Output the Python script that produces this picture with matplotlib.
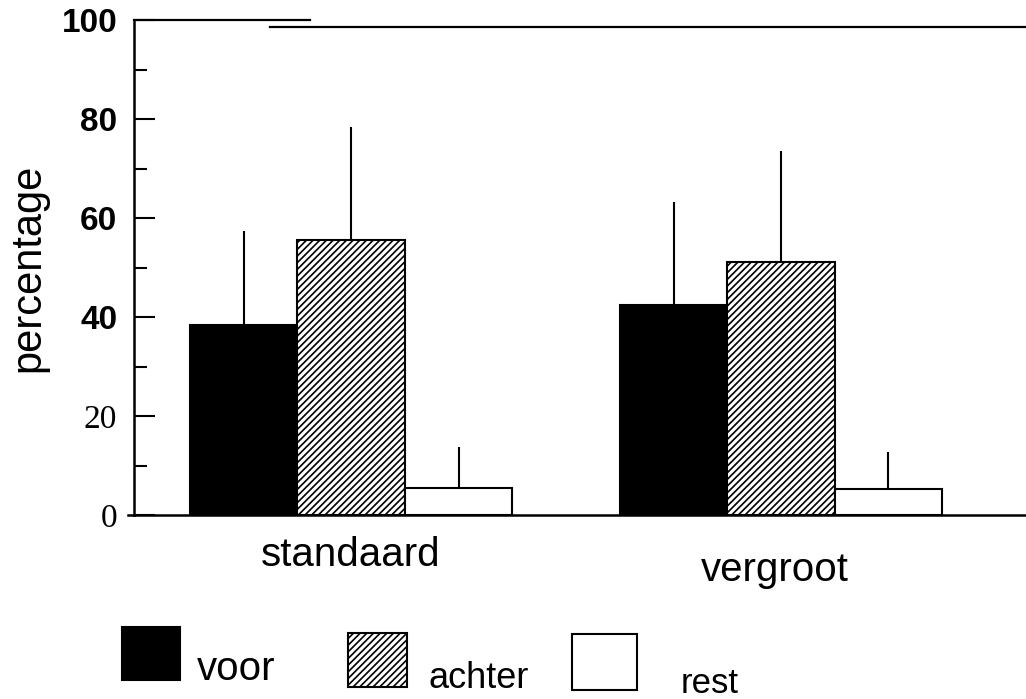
import matplotlib
matplotlib.use("Agg")
import matplotlib.pyplot as plt
import matplotlib.transforms as mtransforms
from matplotlib.patches import Rectangle
import numpy as np

categories = ["standaard", "vergroot"]
series = ["voor", "achter", "rest"]
voor = [38.3, 42.5]
voor_sd = [19.0, 20.7]
achter = [55.6, 51.2]
achter_sd = [22.8, 22.3]
rest = [5.5, 5.3]
rest_sd = [8.3, 7.5]
yticks = [0, 20, 40, 60, 80, 100]
ytick_labels = ["0", "20", "40", "60", "80", "100"]

SANS = "Liberation Sans"
SERIF = "Liberation Serif"
plt.rcParams["font.family"] = [SANS, "DejaVu Sans"]
plt.rcParams["hatch.linewidth"] = 1.2

W, H = 1026, 699
fig = plt.figure(figsize=(W / 100, H / 100), dpi=100)
ax = fig.add_axes([134 / W, 1 - 515 / H, (W - 134) / W, (515 - 20) / H])

x = np.arange(len(categories))
bw = 0.25
styles = [
    dict(color="black", hatch=None),
    dict(color="white", hatch="/////"),
    dict(color="white", hatch=None),
]
data = [voor, achter, rest]
sds = [voor_sd, achter_sd, rest_sd]
for i, (vals, sd, st) in enumerate(zip(data, sds, styles)):
    pos = x + (i - 1) * bw
    ax.bar(pos, vals, width=bw, color=st["color"], edgecolor="black",
           hatch=st["hatch"], linewidth=1.5, zorder=2)
    ax.errorbar(pos, vals, yerr=[np.zeros(len(sd)), sd], fmt="none",
                ecolor="black", elinewidth=1.5, capsize=0, zorder=1)

ax.set_xlim(-(351 - 134) / 430, 1 + (1026 - 781) / 430)
ax.set_ylim(0, 100)
ax.set_xticks([])
ax.set_yticks(yticks)
ax.set_yticklabels(ytick_labels)
ax.set_yticks([10, 30, 50, 70, 90], minor=True)
ax.tick_params(axis="y", which="major", direction="in", length=15, width=1.5,
               pad=12, labelsize=24)
ax.tick_params(axis="y", which="minor", direction="in", length=9, width=1.5)
for lab in ax.get_yticklabels():
    if lab.get_text() in ("0", "20"):
        lab.set_fontfamily(SERIF)
    else:
        lab.set_fontweight("bold")

ax.spines["top"].set_visible(False)
ax.spines["right"].set_visible(False)
ax.spines["left"].set_linewidth(1.8)
ax.spines["bottom"].set_linewidth(1.8)

# broken top border and extended baseline
trans = mtransforms.blended_transform_factory(ax.transAxes, ax.transData)
ax.plot([0, 0.197], [100, 100], color="black", lw=1.6, transform=trans, clip_on=False)
ax.plot([0.152, 1.0], [98.6, 98.6], color="black", lw=1.6, transform=trans, clip_on=False)
ax.plot([-6 / (W - 134), 0], [0, 0], color="black", lw=1.8, transform=trans, clip_on=False)

ax.set_ylabel("percentage", fontsize=30)
ax.yaxis.set_label_coords(-(134 - 48) / (W - 134), 0.5)

# category labels
tl = mtransforms.blended_transform_factory(ax.transData, fig.transFigure)
ax.text(x[0], 1 - 555 / H, categories[0], transform=tl, ha="center", va="center", fontsize=29)
ax.text(x[1] - 0.015, 1 - 570 / H, categories[1], transform=tl, ha="center", va="center", fontsize=29)

# legend
boxes = [(122, 627, 180, 680), (348, 633, 407, 687), (572, 634, 637, 690)]
texts = [(197, 680, 29), (428, 688, 26), (681, 693, 25)]
for (x0, y0, x1, y1), st, (tx, ty, fs), name in zip(boxes, styles, texts, series):
    r = Rectangle((x0 / W, 1 - y1 / H), (x1 - x0) / W, (y1 - y0) / H,
                  transform=fig.transFigure, facecolor=st["color"],
                  edgecolor="black", hatch=st["hatch"], linewidth=1.5)
    fig.patches.append(r)
    fig.text(tx / W, 1 - ty / H, name, fontsize=fs, ha="left", va="baseline")

fig.savefig("out.png", dpi=100)
